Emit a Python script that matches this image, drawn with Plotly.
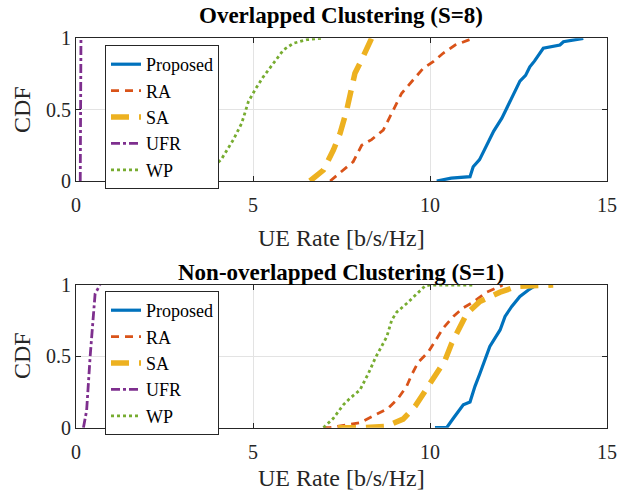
import plotly.graph_objects as go

# ---------------- data ----------------
names = ["Proposed", "RA", "SA", "UFR", "WP"]
colors = ["#0072BD", "#D95319", "#EDB120", "#7E2F8E", "#77AC30"]

# Overlapped Clustering (S=8)
top_prop_x = [10.19, 10.6, 11.13, 11.22, 11.4, 11.60, 11.8, 12.03, 12.26, 12.4, 12.54, 12.7, 12.82, 12.95, 13.11, 13.20, 13.67, 13.77, 14.33]
top_prop_y = [0, 0.02, 0.03, 0.10, 0.15, 0.25, 0.35, 0.44, 0.556, 0.63, 0.70, 0.74, 0.80, 0.84, 0.895, 0.93, 0.953, 0.976, 1.0]
top_ra_x = [7.18, 7.55, 7.83, 8.07, 8.35, 8.68, 8.87, 9.06, 9.20, 9.53, 9.81, 10.09, 10.37, 10.71, 11.04, 11.22]
top_ra_y = [0, 0.077, 0.135, 0.25, 0.29, 0.357, 0.45, 0.545, 0.615, 0.71, 0.79, 0.836, 0.895, 0.953, 0.983, 1.0]
top_sa_x = [6.61, 6.99, 7.27, 7.46, 7.65, 7.74, 7.88, 8.07, 8.31, 8.35]
top_sa_y = [0, 0.077, 0.217, 0.334, 0.50, 0.59, 0.755, 0.85, 0.99, 1.0]
top_ufr_x = [0.12, 0.13, 0.13, 0.14]
top_ufr_y = [0, 0.3, 0.7, 1.0]
top_wp_x = [2.80, 3.50, 3.8, 4.1, 4.44, 4.68, 4.87, 5.06, 5.29, 5.57, 5.86, 6.14, 6.52, 6.92]
top_wp_y = [0, 0.042, 0.08, 0.15, 0.287, 0.404, 0.556, 0.64, 0.73, 0.825, 0.918, 0.965, 0.99, 1.0]

# Non-overlapped Clustering (S=1)
bot_prop_x = [10.14, 10.47, 10.66, 10.94, 11.13, 11.27, 11.41, 11.55, 11.69, 11.84, 11.98, 12.12, 12.31, 12.54, 12.78, 13.01]
bot_prop_y = [0, 0, 0.066, 0.16, 0.18, 0.29, 0.38, 0.47, 0.57, 0.63, 0.685, 0.78, 0.85, 0.92, 0.965, 1.0]
bot_ra_x = [6.99, 7.18, 8.02, 8.45, 8.82, 9.10, 9.34, 9.48, 9.67, 9.95, 10.17, 10.38, 10.66, 10.94, 11.22, 11.60, 11.98, 12.05]
bot_ra_y = [0, 0, 0.035, 0.09, 0.136, 0.206, 0.29, 0.37, 0.46, 0.53, 0.615, 0.70, 0.78, 0.84, 0.88, 0.95, 0.99, 1.0]
bot_sa_x = [7.40, 8.10, 8.77, 9.24, 9.58, 9.86, 10.14, 10.42, 10.61, 10.8, 11.04, 11.41, 11.98, 12.45, 13.16, 13.48]
bot_sa_y = [0, 0, 0.01, 0.06, 0.15, 0.26, 0.36, 0.47, 0.59, 0.68, 0.80, 0.885, 0.95, 0.99, 1.0, 1.0]
bot_ufr_x = [0.21, 0.30, 0.40, 0.49, 0.54, 0.68]
bot_ufr_y = [0, 0.12, 0.50, 0.80, 0.94, 1.0]
bot_wp_x = [6.99, 7.27, 7.55, 7.74, 8.02, 8.26, 8.45, 8.64, 8.78, 8.92, 9.06, 9.34, 9.62, 9.86, 10.0, 11.22]
bot_wp_y = [0, 0.066, 0.16, 0.206, 0.264, 0.38, 0.486, 0.568, 0.638, 0.755, 0.81, 0.87, 0.94, 0.993, 1.0, 1.0]

x_ticks = [0, 5, 10, 15]
y_ticks = [0, 0.5, 1]
y_tick_labels = ["0", "0.5", "1"]
titles = ["Overlapped Clustering (S=8)", "Non-overlapped Clustering (S=1)"]
x_title = "UE Rate [b/s/Hz]"
y_title = "CDF"

# ---------------- styles ----------------
dashes = ["solid", "8px,6px", "18px,10px", "dashdot", "dot"]
widths = [3.2, 2.8, 5.5, 2.8, 2.8]
FONT = "Liberation Serif, Times New Roman, serif"

top = [(top_prop_x, top_prop_y), (top_ra_x, top_ra_y), (top_sa_x, top_sa_y),
       (top_ufr_x, top_ufr_y), (top_wp_x, top_wp_y)]
bot = [(bot_prop_x, bot_prop_y), (bot_ra_x, bot_ra_y), (bot_sa_x, bot_sa_y),
       (bot_ufr_x, bot_ufr_y), (bot_wp_x, bot_wp_y)]

fig = go.Figure()
for i, (x, y) in enumerate(top):
    fig.add_trace(go.Scatter(x=x, y=y, mode="lines", name=names[i],
                             line=dict(color=colors[i], width=widths[i], dash=dashes[i]),
                             xaxis="x", yaxis="y", legend="legend"))
for i, (x, y) in enumerate(bot):
    fig.add_trace(go.Scatter(x=x, y=y, mode="lines", name=names[i],
                             line=dict(color=colors[i], width=widths[i], dash=dashes[i]),
                             xaxis="x2", yaxis="y2", legend="legend2"))

W, H = 627, 491
xdom = [76 / W, 607 / W]
ydom_top = [1 - 181 / H, 1 - 38.3 / H]
ydom_bot = [1 - 427.7 / H, 1 - 285 / H]

axis_common = dict(range=[0, 15], tickvals=x_ticks, showgrid=True, gridcolor="#e3e3e3",
                   gridwidth=1, showline=True, linecolor="#262626", linewidth=1.2,
                   mirror="ticks", ticks="inside", ticklen=5, tickcolor="#262626",
                   zeroline=False, automargin=False, ticklabelstandoff=6,
                   tickfont=dict(family=FONT, size=20, color="#262626"))
yaxis_common = dict(range=[0, 1], tickvals=y_ticks, ticktext=y_tick_labels, showgrid=True,
                    gridcolor="#e3e3e3", gridwidth=1, showline=True, linecolor="#262626",
                    linewidth=1.2, mirror="ticks", ticks="inside", ticklen=5,
                    tickcolor="#262626", zeroline=False, automargin=False,
                    tickfont=dict(family=FONT, size=20, color="#262626"))

legend_common = dict(xanchor="left", yanchor="top", bgcolor="white",
                     bordercolor="#262626", borderwidth=1,
                     font=dict(family=FONT, size=18, color="#000000"),
                     itemwidth=30)

fig.update_layout(
    width=W, height=H, margin=dict(l=0, r=0, t=0, b=0, autoexpand=False),
    paper_bgcolor="white", plot_bgcolor="white",
    xaxis=dict(domain=xdom, anchor="y", **axis_common),
    yaxis=dict(domain=ydom_top, anchor="x", **yaxis_common),
    xaxis2=dict(domain=xdom, anchor="y2", **axis_common),
    yaxis2=dict(domain=ydom_bot, anchor="x2", **yaxis_common),
    legend=dict(x=105 / W, y=1 - 45 / H, **legend_common),
    legend2=dict(x=105 / W, y=1 - 291 / H, **legend_common),
    showlegend=True,
)

ann = []
for t, yp in zip(titles, [15, 272]):
    ann.append(dict(text="<b>" + t + "</b>", x=(xdom[0] + xdom[1]) / 2, y=1 - yp / H,
                    xref="paper", yref="paper", showarrow=False, xanchor="center",
                    yanchor="middle", font=dict(family=FONT, size=23, color="#000000")))
for yp in [238, 478]:
    ann.append(dict(text=x_title, x=(xdom[0] + xdom[1]) / 2, y=1 - yp / H,
                    xref="paper", yref="paper", showarrow=False, xanchor="center",
                    yanchor="middle", font=dict(family=FONT, size=24, color="#262626")))
for yp in [110, 356]:
    ann.append(dict(text=y_title, x=22 / W, y=1 - yp / H, textangle=-90,
                    xref="paper", yref="paper", showarrow=False, xanchor="center",
                    yanchor="middle", font=dict(family=FONT, size=24, color="#262626")))
fig.update_layout(annotations=ann)

fig.write_html("out.html",
               post_script="document.body.style.margin='0';document.body.style.overflow='hidden';")
